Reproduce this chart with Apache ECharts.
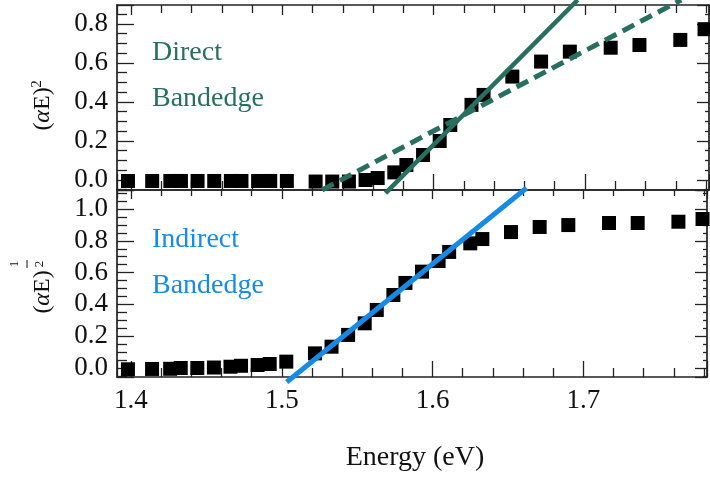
<!DOCTYPE html>
<html><head><meta charset="utf-8">
<script src="https://cdn.jsdelivr.net/npm/echarts@6/dist/echarts.min.js"></script>
<style>html,body{margin:0;padding:0;background:#fff}#c{width:710px;height:480px}</style>
</head><body><div id="c"></div>
<script>
// ---- data ----
const energy = [1.398, 1.414, 1.426, 1.433, 1.444, 1.455, 1.466, 1.473, 1.484, 1.492,
  1.503, 1.522, 1.533, 1.544, 1.555, 1.563, 1.574, 1.582, 1.593, 1.604,
  1.611, 1.625, 1.633, 1.652, 1.671, 1.690, 1.717, 1.736, 1.763, 1.779];
const directY = [-0.005, -0.005, -0.005, -0.005, -0.005, -0.005, -0.005, -0.005, -0.005, -0.005,
  -0.005, -0.008, -0.008, -0.008, 0.000, 0.010, 0.039, 0.077, 0.128, 0.200,
  0.282, 0.385, 0.436, 0.530, 0.607, 0.658, 0.678, 0.692, 0.718, 0.773];
const indirectY = [-0.008, -0.006, -0.005, 0.000, 0.000, 0.003, 0.008, 0.014, 0.019, 0.025,
  0.040, 0.092, 0.134, 0.208, 0.281, 0.365, 0.459, 0.535, 0.606, 0.673,
  0.730, 0.784, 0.811, 0.855, 0.887, 0.899, 0.912, 0.912, 0.920, 0.937];
const directFitSteep = [[1.5682, -0.067], [1.6952, 0.923]];
const directFitShallow = [[1.5263, -0.051], [1.7636, 0.923]];
const indirectFit = [[1.5033, -0.088], [1.6623, 1.132]];
const xTickLabels = ['1.4', '1.5', '1.6', '1.7'];
const topYTickLabels = ['0.0', '0.2', '0.4', '0.6', '0.8'];
const botYTickLabels = ['0.0', '0.2', '0.4', '0.6', '0.8', '1.0'];

const X_MIN = 1.39075, X_MAX = 1.78196;
const TOP_MIN = -0.0513, TOP_MAX = 0.897;
const BOT_MIN = -0.0566, BOT_MAX = 1.1195;

const FONT = 'Liberation Serif';
const AX = '#222';
const TEAL = '#27705f';
const BLUE = '#168ae6';

function fmt(list) {
  return function (v) {
    const s = v.toFixed(1);
    return (Math.abs(v * 10 - Math.round(v * 10)) < 1e-6 && list.indexOf(s) >= 0) ? s : '';
  };
}

function xAx(gi, pos, labels, tickLen, minorLen) {
  return {
    type: 'value', gridIndex: gi, position: pos, min: X_MIN, max: X_MAX,
    axisLine: { show: true, onZero: false, lineStyle: { color: AX, width: 1.7 } },
    axisTick: { show: true, inside: true, length: tickLen, lineStyle: { color: AX, width: 1.3 } },
    minorTick: { show: true, splitNumber: 5, length: minorLen, lineStyle: { color: AX, width: 1.3 } },
    splitLine: { show: false }, minorSplitLine: { show: false },
    axisLabel: { show: labels, formatter: fmt(xTickLabels), fontFamily: FONT, fontSize: 27, color: '#111', margin: 10 }
  };
}
function yAx(gi, pos, labels, mn, mx, list, tickLen, minorLen) {
  return {
    type: 'value', gridIndex: gi, position: pos, min: mn, max: mx,
    axisLine: { show: true, onZero: false, lineStyle: { color: AX, width: 1.7 } },
    axisTick: { show: true, inside: true, length: tickLen, lineStyle: { color: AX, width: 1.3 } },
    minorTick: { show: true, splitNumber: 4, length: minorLen, lineStyle: { color: AX, width: 1.3 } },
    splitLine: { show: false }, minorSplitLine: { show: false },
    axisLabel: { show: labels, formatter: fmt(list), fontFamily: FONT, fontSize: 27, color: '#111', margin: 9 }
  };
}

const chart = echarts.init(document.getElementById('c'), null, { renderer: 'canvas' });
chart.setOption({
  animation: false,
  backgroundColor: '#fff',
  grid: [
    { left: 117, top: 5, right: 1, height: 185 },
    { left: 117, top: 190, right: 1, height: 187 }
  ],
  xAxis: [
    xAx(0, 'bottom', false, 16, 9),
    xAx(0, 'top', false, 10, 8),
    xAx(1, 'bottom', true, 16, 9),
    xAx(1, 'top', false, 9, 6)
  ],
  yAxis: [
    yAx(0, 'left', true, TOP_MIN, TOP_MAX, topYTickLabels, 17, 10),
    yAx(0, 'right', false, TOP_MIN, TOP_MAX, topYTickLabels, 12, 4),
    yAx(1, 'left', true, BOT_MIN, BOT_MAX, botYTickLabels, 17, 10),
    yAx(1, 'right', false, BOT_MIN, BOT_MAX, botYTickLabels, 12, 4)
  ],
  series: [
    { type: 'scatter', xAxisIndex: 0, yAxisIndex: 0, symbol: 'rect', symbolSize: 14, clip: false,
      itemStyle: { color: '#000', opacity: 1 }, data: energy.map((e, i) => [e, directY[i]]), z: 2 },
    { type: 'scatter', xAxisIndex: 2, yAxisIndex: 2, symbol: 'rect', symbolSize: 14, clip: false,
      itemStyle: { color: '#000', opacity: 1 }, data: energy.map((e, i) => [e, indirectY[i]]), z: 2 },
    { type: 'line', xAxisIndex: 0, yAxisIndex: 0, data: directFitSteep, showSymbol: false, symbol: 'none', clip: false,
      lineStyle: { color: TEAL, width: 4.5 }, z: 3, silent: true },
    { type: 'line', xAxisIndex: 0, yAxisIndex: 0, data: directFitShallow, showSymbol: false, symbol: 'none', clip: false,
      lineStyle: { color: TEAL, width: 5, type: [13, 7] }, z: 3, silent: true },
    { type: 'line', xAxisIndex: 2, yAxisIndex: 2, data: indirectFit, showSymbol: false, symbol: 'none', clip: false,
      lineStyle: { color: BLUE, width: 5 }, z: 3, silent: true }
  ],
  graphic: [
    { type: 'text', x: 152, y: 53, style: { text: 'Direct', fill: TEAL, font: '28px "Liberation Serif"', verticalAlign: 'middle' } },
    { type: 'text', x: 152, y: 99, style: { text: 'Bandedge', fill: TEAL, font: '28px "Liberation Serif"', verticalAlign: 'middle' } },
    { type: 'text', x: 152, y: 240, style: { text: 'Indirect', fill: BLUE, font: '28px "Liberation Serif"', verticalAlign: 'middle' } },
    { type: 'text', x: 152, y: 286, style: { text: 'Bandedge', fill: BLUE, font: '28px "Liberation Serif"', verticalAlign: 'middle' } },
    { type: 'text', x: 415, y: 458, style: { text: 'Energy (eV)', fill: '#111', font: '28px "Liberation Serif"', align: 'center', verticalAlign: 'middle' } },
    { type: 'group', x: 43, y: 109, rotation: Math.PI / 2, children: [
      { type: 'text', x: 0, y: 0, style: { text: '({i|α}E)', fill: '#111', font: '24px "Liberation Serif"', align: 'center', verticalAlign: 'middle',
        rich: { i: { fontStyle: 'italic', fontFamily: 'Liberation Serif', fontSize: 24, fill: '#111' } } } },
      { type: 'text', x: 25, y: -6, style: { text: '2', fill: '#111', font: '15px "Liberation Serif"', align: 'center', verticalAlign: 'middle' } }
    ] },
    { type: 'group', x: 43, y: 292, rotation: Math.PI / 2, children: [
      { type: 'text', x: 0, y: 0, style: { text: '({i|α}E)', fill: '#111', font: '24px "Liberation Serif"', align: 'center', verticalAlign: 'middle',
        rich: { i: { fontStyle: 'italic', fontFamily: 'Liberation Serif', fontSize: 24, fill: '#111' } } } },
      { type: 'text', x: 28, y: -28, style: { text: '1', fill: '#111', font: '13px "Liberation Serif"', align: 'center', verticalAlign: 'middle' } },
      { type: 'line', shape: { x1: 24, y1: -16, x2: 32, y2: -16 }, style: { stroke: '#111', lineWidth: 1 } },
      { type: 'text', x: 28, y: -3, style: { text: '2', fill: '#111', font: '13px "Liberation Serif"', align: 'center', verticalAlign: 'middle' } }
    ] }
  ]
});
</script>
</body></html>
